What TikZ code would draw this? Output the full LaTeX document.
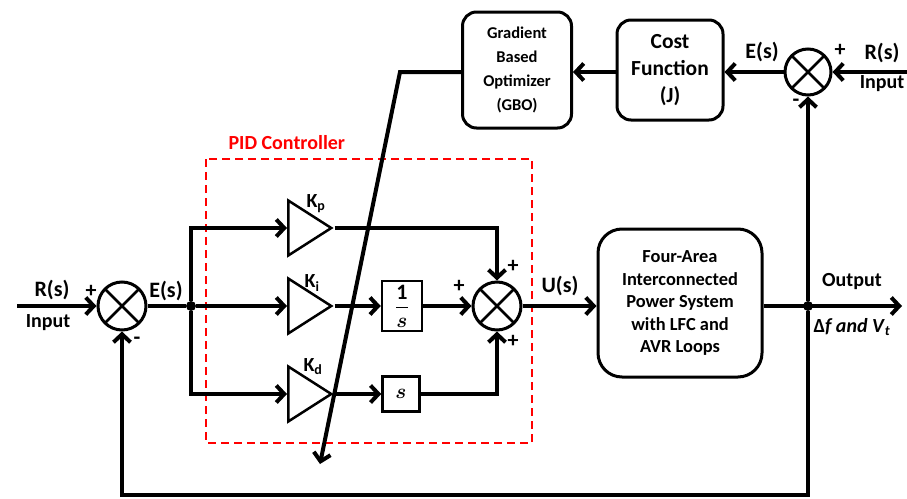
\documentclass[tikz,border=0pt]{standalone}
\usepackage{amsmath}
\usepackage{fontspec}
\setmainfont{Carlito}
\usetikzlibrary{shapes.geometric,arrows.meta}

\begin{document}
\begin{tikzpicture}[x=1pt, y=-1pt,
    font=\bfseries\fontsize{22}{26}\selectfont,
    wire/.style={line width=4pt},
    arrow/.style={line width=4pt, -{Straight Barb[length=8pt,width=17pt]}},
    box/.style={draw, rounded corners=14pt, line width=3pt, align=center, inner sep=0},
    smallbox/.style={draw, line width=2.5pt, inner sep=0},
    sum/.style={draw, circle, line width=3pt, minimum size=48pt, inner sep=0,
        path picture={\draw[line width=2.5pt]
            (path picture bounding box.north west) -- (path picture bounding box.south east)
            (path picture bounding box.north east) -- (path picture bounding box.south west);}},
    gain/.style={draw, isosceles triangle, isosceles triangle stretches, line width=2.5pt,
        minimum width=55pt, minimum height=43pt, inner sep=0, anchor=west},
    dot/.style={circle, fill, minimum size=10pt, inner sep=0},
    small/.style={font=\bfseries\fontsize{20}{24}\selectfont}
]
    \useasboundingbox (0,0) rectangle (907,498);

    % main loop
    \coordinate (rin) at (17,306);
    \node[sum] (sumL) at (122,306) {};
    \node[dot] (jn) at (191,306) {};
    \node[gain] (kp) at (287,228) {};
    \node[gain] (ki) at (287,306) {};
    \node[gain] (kd) at (287,394) {};
    \node[smallbox, minimum width=40pt, minimum height=50pt] (integ) at (402,306) {$\dfrac{\mathbf{1}}{\boldsymbol{s}}$};
    \node[smallbox, minimum width=37pt, minimum height=35pt] (deriv) at (401,394) {$\boldsymbol{s}$};
    \node[sum] (sumR) at (497,306) {};
    \node[box, rounded corners=24pt, minimum width=164pt, minimum height=148pt,
        font=\bfseries\fontsize{18.4}{22.5}\selectfont] (plant) at (680,303)
        {Four-Area\\Interconnected\\Power System\\with LFC and\\AVR Loops};
    \node[dot] (jnOut) at (808,306) {};
    \coordinate (yout) at (902,306);
    \coordinate (fb) at (808,495);

    % optimizer loop
    \node[sum, minimum size=46pt] (sumT) at (808,72) {};
    \coordinate (rinT) at (907,72);
    \node[box, minimum width=106pt, minimum height=100pt,
        font=\bfseries\fontsize{21.5}{27}\selectfont] (cost) at (670,70) {Cost\\Function\\(J)};
    \node[box, minimum width=109pt, minimum height=116pt,
        font=\bfseries\fontsize{16.5}{24}\selectfont] (gbo) at (517,70) {Gradient\\Based\\Optimizer\\(GBO)};
    \coordinate (bend) at (400,72);
    \coordinate (tune) at (320,464);

    % PID frame
    \draw[red, dashed, line width=1.6pt, dash pattern=on 8pt off 5pt] (206,159) rectangle (532,443);
    \node[small, red, anchor=west] (pid) at (225,143) {PID Controller};

    % connectors
    \draw[arrow] (rin) -- (sumL.west);
    \draw[wire] (sumL.east) -- (jn);
    \draw[arrow] (jn) |- (kp.west);
    \draw[arrow] (jn) -- (ki.west);
    \draw[arrow] (jn) |- (kd.west);
    \draw[arrow] (kp.apex) -| (sumR.north);
    \draw[arrow] (ki.apex) -- (integ.west);
    \draw[arrow] (integ.east) -- (sumR.west);
    \draw[arrow] (kd.apex) -- (deriv.west);
    \draw[arrow] (deriv.east) -| (sumR.south);
    \draw[arrow] (sumR.east) -- (sumR.east -| plant.west);
    \draw[arrow] (plant.east |- jnOut) -- (yout);
    \draw[arrow] (jnOut) -- (sumT.south);
    \draw[arrow] (jnOut) -- (fb) -| (sumL.south);
    \draw[arrow] (rinT) -- (sumT.east);
    \draw[arrow] (sumT.west) -- (sumT.west -| cost.east);
    \draw[arrow] (cost.west |- sumT) -- (gbo.east |- sumT);
    \draw[arrow] (gbo.west |- bend) -- (bend) -- (tune);

    % labels
    \node (rsL) at (52,290) {R(s)};
    \node[small] (inL) at (48,323) {Input};
    \node (pL) at (91,291) {+};
    \node (mL) at (137,341) {-};
    \node (esL) at (166,291) {E(s)};
    \node[small] (kpL) at (316,204) {K\textsubscript{p}};
    \node[small] (kiL) at (312,283) {K\textsubscript{i}};
    \node[small] (kdL) at (313,367) {K\textsubscript{d}};
    \node (p1) at (513,266) {+};
    \node (p2) at (459,286) {+};
    \node (p3) at (513,341) {+};
    \node (us) at (560,286) {U(s)};
    \node[small] (outL) at (852,282) {Output};
    \node[small] (dfL) at (852,327) {Δ\textit{f and V}\textsubscript{\textit{t}}};
    \node (esT) at (762,52) {E(s)};
    \node (pT) at (840,50) {+};
    \node (mT) at (796,103) {-};
    \node (rsT) at (882,53) {R(s)};
    \node[small] (inT) at (882,84) {Input};
\end{tikzpicture}
\end{document}
